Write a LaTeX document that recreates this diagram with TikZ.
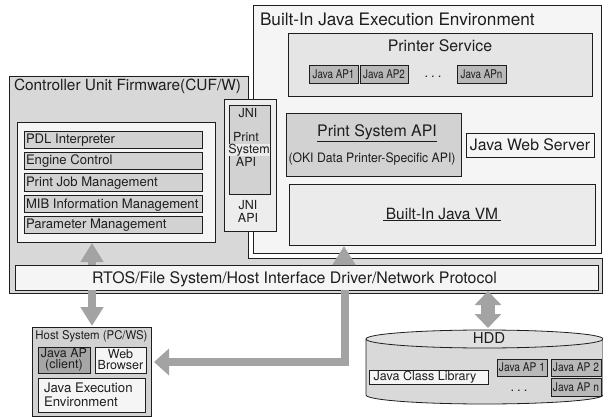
\documentclass[tikz,border=0pt]{standalone}
\usepackage{fontspec}
\setmainfont{TeX Gyre Heros}
\usetikzlibrary{shadows,arrows.meta,shapes.geometric,calc}
\definecolor{ink}{HTML}{1E1E1E}
\definecolor{cuf}{HTML}{D8D8D8}
\definecolor{pale}{HTML}{F5F5F5}
\definecolor{mid}{HTML}{D2D2D2}
\definecolor{arrowgray}{HTML}{A3A3A3}
\tikzset{
  x=1pt,y=-1pt,
  every node/.style={text=ink},
  boxed/.style={draw=ink,line width=.8pt,inner sep=0pt,outer sep=0pt,
    drop shadow={shadow xshift=1.4pt,shadow yshift=-1.4pt,fill=black!65,opacity=1}},
  label/.style={inner sep=0pt,outer sep=0pt,align=center},
  blockarrow/.style={draw=arrowgray,line width=#1},
  headA/.style={-{Triangle[length=19pt,width=22pt,fill=arrowgray]}},
  headB/.style={{Triangle[length=14pt,width=26pt,fill=arrowgray]}-{Triangle[length=14pt,width=26pt,fill=arrowgray]}}
}
\newcommand{\fs}[1]{\fontsize{#1}{#1}\selectfont}
% name, x1, y1, x2, y2, fill, text
\newcommand{\bx}[7]{\node[boxed,fill=#6,minimum width={(#4-#2)*1pt},minimum height={(#5-#3)*1pt}] (#1) at ({(#2+#4)/2},{(#3+#5)/2}) {#7};}
\newcommand{\nar}[2]{\scalebox{#1}[1]{#2}}
\newcommand{\spdots}{.\hspace{3pt}.\hspace{3pt}.}
\begin{document}
\begin{tikzpicture}
\useasboundingbox (0,0) rectangle (603,417);
% outer CUF
\filldraw[draw=ink,line width=.8pt,fill=cuf]
  (9,76) -- (248,76) -- (248,258) -- (602,258) -- (602,293) -- (9,293) -- cycle;
% Java environment
\bx{env}{253}{5}{601}{253}{pale}{}
\node[label,anchor=west,font=\fs{17.2}] (envt) at (260,19) {Built-In Java Execution Environment};
\node[label,anchor=west,font=\fs{15.4}] (cuft) at (14,86) {Controller Unit Firmware(CUF/W)};
% Printer service
\bx{ps}{288}{33}{592}{96}{black!10}{}
\node[label,font=\fs{15.9}] (pst) at (440,45.5) {Printer Service};
\bx{ap1}{309}{65}{358}{83}{black!28}{\fs{12}\nar{.82}{Java AP1}}
\bx{ap2}{360}{65}{408}{83}{black!28}{\fs{12}\nar{.82}{Java AP2}}
\bx{apn}{457}{65}{506}{83}{black!28}{\fs{12}\nar{.82}{Java APn}}
\node[label,font=\fs{13}] (dots1) at (433,77) {\spdots};
% Print System API
\bx{psa}{286}{113}{461}{176}{mid}{}
\node[label,font=\fs{15.9}] (psat) at (377,133) {\underline{Print System API}};
\node[label,font=\fs{13}] (psas) at (372,159) {\nar{.94}{(OKI Data Printer-Specific API)}};
\bx{jws}{466}{133}{594}{157}{pale}{\fs{15.8}Java Web Server}
\bx{vm}{289}{184}{595}{245}{black!8}{\fs{15.5}\underline{\,Built-In Java VM\,}}
% JNI
\bx{jni}{224}{99}{276}{231}{black!7}{}
\bx{jnii}{229}{105}{270}{194}{mid}{}
\node[label,font=\fs{12.5}] (j1) at (248,113) {JNI};
\node[label,font=\fs{12.5}] (j2) at (246,137) {Print};
\node[label,font=\fs{12.5},fill=black!8] (j3) at (249,150) {System};
\node[label,font=\fs{12.5}] (j4) at (246,162) {API};
\node[label,font=\fs{12.5}] (j5) at (248,205) {JNI};
\node[label,font=\fs{12.5}] (j6) at (248,218) {API};
% firmware list
\bx{fw}{17}{122}{215}{242}{pale}{}
\bx{i1}{24}{131}{202}{148}{mid}{}
\bx{i2}{24}{152}{202}{169}{mid}{}
\bx{i3}{24}{173}{202}{191}{mid}{}
\bx{i4}{24}{195}{202}{212}{mid}{}
\bx{i5}{24}{216}{202}{233}{mid}{}
\node[label,anchor=base west,font=\fs{13.1}] (t1) at (26,144) {PDL Interpreter};
\node[label,anchor=base west,font=\fs{13.1}] (t2) at (26,165) {Engine Control};
\node[label,anchor=base west,font=\fs{13.1}] (t3) at (26,187) {Print Job Management};
\node[label,anchor=base west,font=\fs{13.1}] (t4) at (26,208) {MIB Information Management};
\node[label,anchor=base west,font=\fs{13.1}] (t5) at (26,229) {Parameter Management};
% RTOS
\bx{rtos}{15}{265}{598}{290}{pale}{}
\node[label,font=\fs{15.9}] (rtost) at (294.5,279.5) {RTOS/File System/Host Interface Driver/Network Protocol};
% Host
\bx{host}{32}{327}{151}{416}{mid}{}
\node[label,font=\fs{12}] (hostt) at (91.5,336) {\nar{.95}{Host System (PC/WS)}};
\bx{jap}{38}{347}{90}{373}{black!35}{}
\node[label,font=\fs{12.5}] (japt) at (64,360) {Java AP\\[-1.5pt](client)};
\bx{web}{95}{347}{146}{373}{pale}{}
\node[label,font=\fs{12.5}] (webt) at (120.5,360) {Web\\[-1.5pt]Browser};
\bx{jex}{38}{378}{145}{412}{pale}{}
\node[label,anchor=west,align=left,font=\fs{13.2}] (jext) at (44,395) {Java Execution\\[1pt]Environment};
% HDD
\path[fill=black!15] (366,339) -- (366,395) arc[start angle=180,end angle=0,x radius=118.5,y radius=9] -- (603,339) -- cycle;
\draw[ink,line width=.8pt] (366,339) -- (366,395) arc[start angle=180,end angle=0,x radius=118.5,y radius=9] -- (603,339);
\filldraw[draw=ink,line width=.8pt,fill=black!12] (484.5,339) ellipse[x radius=118.5,y radius=9];
\node[label,font=\fs{15}] (hddt) at (489,338) {HDD};
\coordinate (hddtop) at (488,328);
\bx{jcl}{369}{370}{488}{384}{pale}{}
\node[label,font=\fs{12.5}] (jclt) at (425,377) {Java Class Library};
\bx{h1}{497}{359}{547}{376}{black!28}{\fs{12}\nar{.85}{Java AP 1}}
\bx{h2}{551}{359}{601}{376}{black!28}{\fs{12}\nar{.85}{Java AP 2}}
\bx{hn}{551}{378}{601}{396}{black!28}{\fs{12}\nar{.85}{Java AP n}}
\node[label,font=\fs{13}] (dots2) at (519,391) {\spdots};
% connectors
\coordinate (upL) at (92,243);
\coordinate (upJ) at (344,246);
\coordinate (downH) at (92,326);
\coordinate (corner) at (345,362);
\coordinate (hostR) at (154,362);
\coordinate (hddU) at (488,291);
\draw[blockarrow=8pt,headA] (rtos.north -| upL) -- (upL);
\draw[blockarrow=8pt,headA] (rtos.north -| upJ) -- (upJ);
\draw[blockarrow=8.5pt,headA] (rtos.south -| downH) -- (downH);
\draw[blockarrow=7.5pt,-{Triangle[length=15pt,width=26pt,fill=arrowgray]}] (rtos.south -| corner) -- (corner) -- (hostR);
\draw[blockarrow=14pt,headB] (hddU) -- (hddtop -| hddU);
\end{tikzpicture}
\end{document}
